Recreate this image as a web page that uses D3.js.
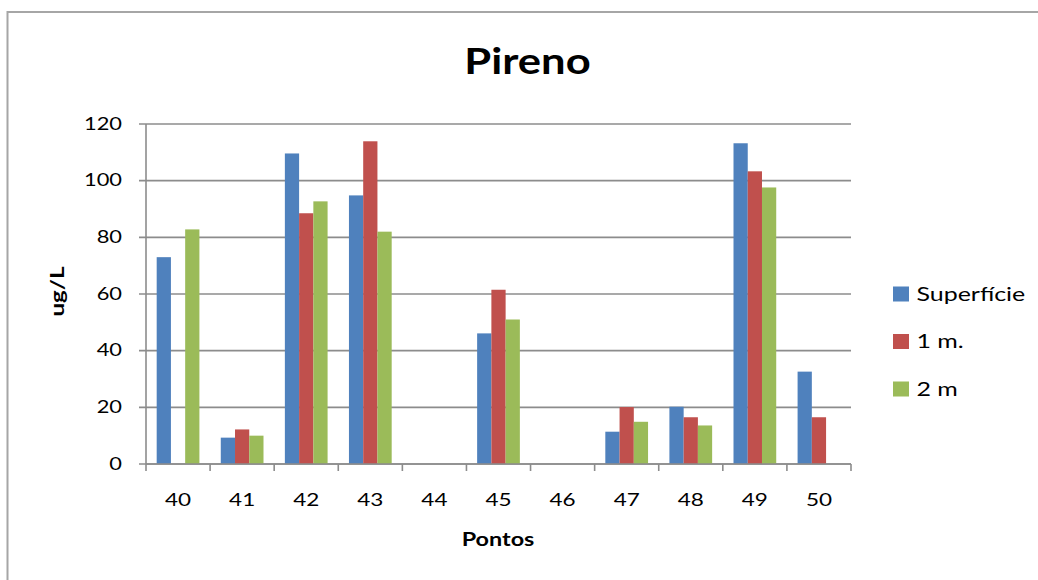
<!DOCTYPE html>
<html>
<head>
<meta charset="utf-8">
<script src="https://cdn.jsdelivr.net/npm/d3@7"></script>
<style>
  html, body { margin: 0; padding: 0; background: #fff; }
  svg { display: block; }
  text { font-family: Lato, "Open Sans", sans-serif; fill: #000; }
</style>
</head>
<body>
<svg id="chart" width="1038" height="580"></svg>
<script>
// Pontos de coleta (eixo X)
const categories = ["40", "41", "42", "43", "44", "45", "46", "47", "48", "49", "50"];
// Concentração de pireno (ug/L) por profundidade
const superficie = [73, 9.3, 109.6, 94.8, 0, 46.1, 0, 11.4, 20.2, 113.2, 32.6];
const umMetro    = [0, 12.2, 88.5, 113.9, 0, 61.5, 0, 20.1, 16.5, 103.3, 16.5];
const doisMetros = [82.8, 10, 92.7, 82, 0, 51, 0, 14.9, 13.6, 97.6, 0];
const seriesNames = ["Superfície", "1 m.", "2 m"];
const seriesColors = ["#4F81BD", "#C0504D", "#9BBB59"];
const yTicks = [0, 20, 40, 60, 80, 100, 120];

const series = [superficie, umMetro, doisMetros];
const svg = d3.select("#chart");

// Texto com largura ajustada (fonte levemente expandida na horizontal)
function label(parent, x, y, str, opts) {
  const o = Object.assign({ size: 18, sx: 1.22, anchor: "start", weight: "normal", rotate: 0 }, opts);
  const g = parent.append("g")
    .attr("transform", `translate(${x},${y})` + (o.rotate ? ` rotate(${o.rotate})` : ""));
  g.append("text")
    .attr("transform", `scale(${o.sx},1)`)
    .attr("dy", "0.35em")
    .attr("text-anchor", o.anchor)
    .attr("font-size", o.size)
    .attr("font-weight", o.weight)
    .text(str);
  return g;
}

// Moldura do gráfico
svg.append("rect")
  .attr("x", 7.5).attr("y", 12)
  .attr("width", 1100).attr("height", 700)
  .attr("fill", "#fff").attr("stroke", "#a6a6a6").attr("stroke-width", 2);

const plot = { left: 146, right: 851, top: 124, bottom: 464 };

const x0 = d3.scaleBand().domain(categories).range([plot.left, plot.right]).padding(0);
const bw = x0.bandwidth();
const gap = bw * 1.5 / 4.5;
const x1 = d3.scaleBand().domain(d3.range(series.length)).range([gap / 2, bw - gap / 2]).padding(0);
const y = d3.scaleLinear().domain([0, 120]).range([plot.bottom, plot.top]);

// Linhas de grade horizontais
svg.append("g")
  .selectAll("line")
  .data(yTicks)
  .join("line")
  .attr("x1", plot.left - 7).attr("x2", plot.right)
  .attr("y1", d => y(d)).attr("y2", d => y(d))
  .attr("stroke", "#8c8c8c").attr("stroke-width", 1.6);

// Barras
const groups = svg.append("g")
  .selectAll("g")
  .data(categories)
  .join("g")
  .attr("transform", d => `translate(${x0(d)},0)`);

groups.selectAll("rect")
  .data((d, i) => series.map((s, k) => ({ k, v: s[i] })))
  .join("rect")
  .attr("x", d => x1(d.k))
  .attr("width", x1.bandwidth())
  .attr("y", d => y(d.v))
  .attr("height", d => y(0) - y(d.v))
  .attr("fill", d => seriesColors[d.k]);

// Eixo Y
svg.append("line")
  .attr("x1", plot.left).attr("x2", plot.left)
  .attr("y1", plot.top).attr("y2", plot.bottom)
  .attr("stroke", "#8c8c8c").attr("stroke-width", 1.6);

const yLabels = svg.append("g");
yTicks.forEach(t => label(yLabels, 122, y(t) - 0.5, String(t), { anchor: "end", size: 17.5, sx: 1.25 }));

// Eixo X
svg.append("line")
  .attr("x1", plot.left).attr("x2", plot.right)
  .attr("y1", plot.bottom).attr("y2", plot.bottom)
  .attr("stroke", "#8c8c8c").attr("stroke-width", 1.6);

const xTickPos = categories.map(c => x0(c)).concat([plot.right]);
svg.append("g")
  .selectAll("line")
  .data(xTickPos)
  .join("line")
  .attr("x1", d => d).attr("x2", d => d)
  .attr("y1", plot.bottom).attr("y2", plot.bottom + 7)
  .attr("stroke", "#8c8c8c").attr("stroke-width", 1.6);

const xLabels = svg.append("g");
categories.forEach(c => label(xLabels, x0(c) + bw / 2, 500, c, { anchor: "middle", size: 18, sx: 1.25 }));

// Títulos
label(svg, 527.5, 61.5, "Pireno", { anchor: "middle", size: 36, sx: 1.21, weight: "bold" });
label(svg, 498, 539.5, "Pontos", { anchor: "middle", size: 18, sx: 1.3, weight: "bold" });
label(svg, 57.5, 291.5, "ug/L", { anchor: "middle", size: 18, sx: 1.34, weight: "bold", rotate: -90 });

// Legenda
const legend = svg.append("g");
seriesNames.forEach((name, i) => {
  const yy = 294 + i * 47.5;
  legend.append("rect")
    .attr("x", 893).attr("y", yy - 7.5)
    .attr("width", 16).attr("height", 15)
    .attr("fill", seriesColors[i]);
  label(legend, 916.5, yy, name, { size: 19.5, sx: 1.28 });
});
</script>
</body>
</html>
